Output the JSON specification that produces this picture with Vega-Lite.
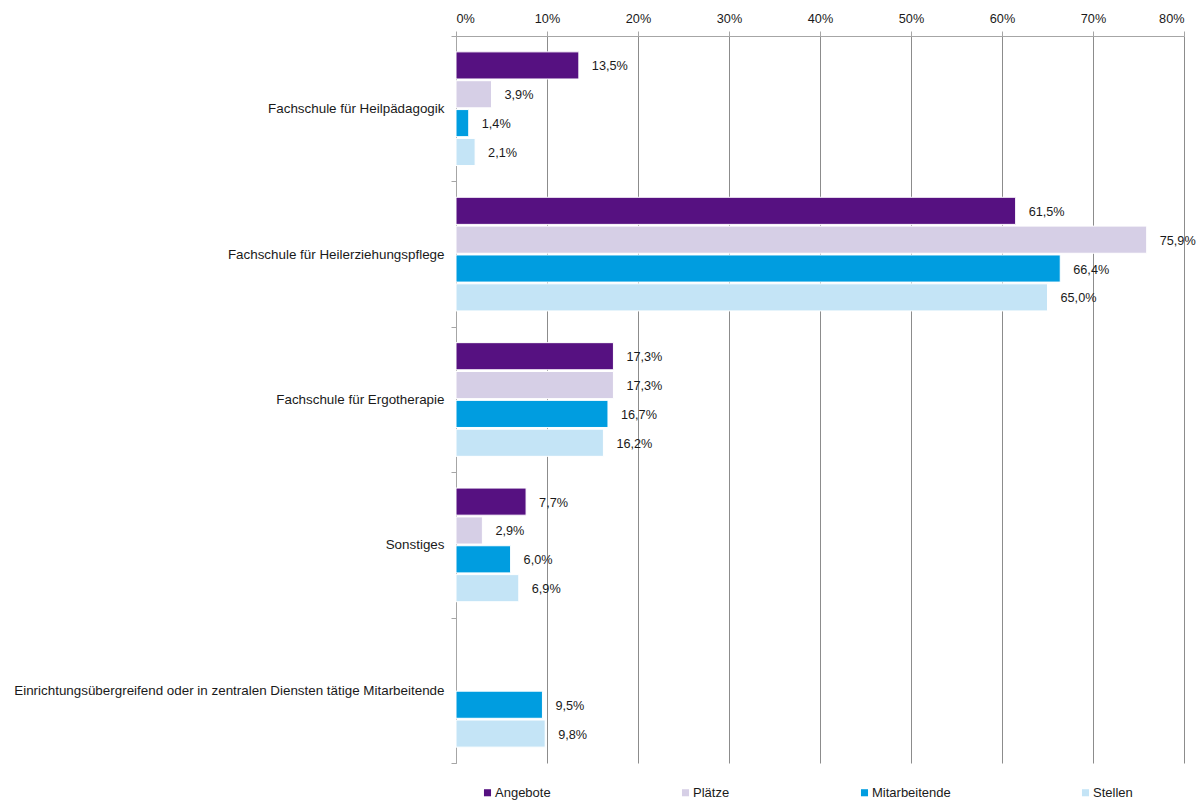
{
  "$schema": "https://vega.github.io/schema/vega-lite/v6.json",
  "autosize": {"type": "none"},
  "padding": {"left": 456, "top": 36, "right": 18, "bottom": 38},
  "width": 728,
  "height": 727,
  "background": "white",
  "config": {
    "locale": {"number": {"decimal": ",", "thousands": ".", "grouping": [3], "currency": ["", " €"]}},
    "font": "Liberation Sans",
    "view": {"stroke": null}
  },
  "data": {
    "values": [
      {"kategorie": "Fachschule für Heilpädagogik", "serie": "Angebote", "wert": 0.135},
      {"kategorie": "Fachschule für Heilpädagogik", "serie": "Plätze", "wert": 0.039},
      {"kategorie": "Fachschule für Heilpädagogik", "serie": "Mitarbeitende", "wert": 0.014},
      {"kategorie": "Fachschule für Heilpädagogik", "serie": "Stellen", "wert": 0.021},
      {"kategorie": "Fachschule für Heilerziehungspflege", "serie": "Angebote", "wert": 0.615},
      {"kategorie": "Fachschule für Heilerziehungspflege", "serie": "Plätze", "wert": 0.759},
      {"kategorie": "Fachschule für Heilerziehungspflege", "serie": "Mitarbeitende", "wert": 0.664},
      {"kategorie": "Fachschule für Heilerziehungspflege", "serie": "Stellen", "wert": 0.650},
      {"kategorie": "Fachschule für Ergotherapie", "serie": "Angebote", "wert": 0.173},
      {"kategorie": "Fachschule für Ergotherapie", "serie": "Plätze", "wert": 0.173},
      {"kategorie": "Fachschule für Ergotherapie", "serie": "Mitarbeitende", "wert": 0.167},
      {"kategorie": "Fachschule für Ergotherapie", "serie": "Stellen", "wert": 0.162},
      {"kategorie": "Sonstiges", "serie": "Angebote", "wert": 0.077},
      {"kategorie": "Sonstiges", "serie": "Plätze", "wert": 0.029},
      {"kategorie": "Sonstiges", "serie": "Mitarbeitende", "wert": 0.060},
      {"kategorie": "Sonstiges", "serie": "Stellen", "wert": 0.069},
      {"kategorie": "Einrichtungsübergreifend oder in zentralen Diensten tätige Mitarbeitende", "serie": "Mitarbeitende", "wert": 0.095},
      {"kategorie": "Einrichtungsübergreifend oder in zentralen Diensten tätige Mitarbeitende", "serie": "Stellen", "wert": 0.098}
    ]
  },
  "encoding": {
    "y": {
      "field": "kategorie", "type": "nominal",
      "sort": ["Fachschule für Heilpädagogik", "Fachschule für Heilerziehungspflege", "Fachschule für Ergotherapie", "Sonstiges", "Einrichtungsübergreifend oder in zentralen Diensten tätige Mitarbeitende"],
      "scale": {"paddingInner": 0, "paddingOuter": 0},
      "axis": {
        "title": null, "ticks": true, "tickBand": "extent", "tickSize": 5, "tickColor": "#a6a6a6",
        "domain": true, "domainColor": "#a6a6a6",
        "labelFontSize": 13.4, "labelColor": "#1a1a1a", "labelPadding": 7, "labelLimit": 460
      }
    },
    "yOffset": {
      "field": "serie", "type": "nominal",
      "scale": {"domain": ["Angebote", "Plätze", "Mitarbeitende", "Stellen"], "paddingInner": 0.06, "paddingOuter": 0.55}
    },
    "x": {
      "field": "wert", "type": "quantitative",
      "scale": {"domain": [0, 0.8], "nice": false},
      "axis": {
        "orient": "top", "title": null, "format": ".0%", "tickCount": 8,
        "grid": true, "gridColor": "#8c8c8c", "gridWidth": 1,
        "domainColor": "#a6a6a6", "tickColor": "#a6a6a6", "tickSize": 5,
        "labelFontSize": 12.7, "labelColor": "#1a1a1a", "labelPadding": 6
      }
    }
  },
  "layer": [
    {
      "mark": {"type": "bar", "stroke": "white", "strokeWidth": 1},
      "encoding": {
        "color": {
          "field": "serie", "type": "nominal",
          "scale": {"domain": ["Angebote", "Plätze", "Mitarbeitende", "Stellen"], "range": ["#561181", "#d6cfe6", "#009de0", "#c4e4f6"]},
          "legend": {
            "title": null, "orient": "none", "direction": "horizontal",
            "legendX": 25, "legendY": 750,
            "symbolType": "square", "symbolSize": 50, "symbolStrokeWidth": 0,
            "labelFontSize": 13, "labelColor": "#1a1a1a", "labelOffset": 1,
            "columnPadding": 128
          }
        }
      }
    },
    {
      "mark": {"type": "text", "align": "left", "baseline": "middle", "dx": 13, "dy": 1, "fontSize": 12.7, "color": "#1a1a1a"},
      "encoding": {
        "text": {"field": "wert", "type": "quantitative", "format": ".1%"}
      }
    }
  ]
}
